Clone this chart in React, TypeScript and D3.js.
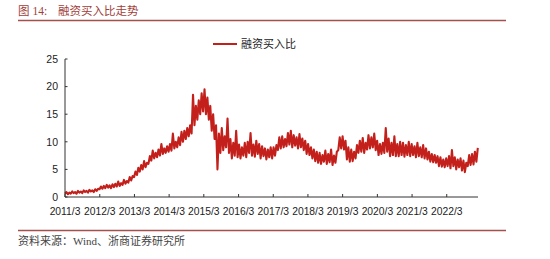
import React from "react";
import * as d3 from "d3";

const title = "融资买入比走势";
const seriesName = "融资买入比";
const xTickLabels = ["2011/3","2012/3","2013/3","2014/3","2015/3","2016/3","2017/3","2018/3","2019/3","2020/3","2021/3","2022/3"];
const yTicks = [0, 5, 10, 15, 20, 25];

// half-monthly readings, Mar 2011 .. Feb 2023 (one row per year, Mar..Feb)
const values2011 = [0.6,0.9,0.5,0.8,0.6,1.0,0.7,0.9,0.6,1.1,0.8,1.0,0.7,1.2,0.9,1.1,0.8,1.3,1.0,1.2,0.9,1.4,1.1,1.5];
const values2012 = [1.4,1.9,1.5,2.0,1.6,2.2,1.7,2.1,1.6,2.3,1.8,2.4,1.9,2.8,2.0,2.5,2.2,3.1,2.4,2.9,2.6,3.6,3.0,3.8];
const values2013 = [3.6,4.6,4.0,5.3,4.6,5.8,5.0,6.5,5.4,6.2,6.0,7.4,6.6,8.4,7.0,8.0,7.2,8.6,7.5,9.6,7.8,8.8,8.0,9.2];
const values2014 = [8.2,9.6,8.4,11.5,8.8,10.0,9.0,10.8,9.4,11.8,10.0,12.0,10.5,12.5,11.0,13.0,11.5,18.5,13.0,16.5,14.0,17.5,15.0,18.8];
const values2015 = [15.5,19.5,15.0,18.0,14.0,16.5,12.0,15.0,10.5,13.0,5.0,11.5,8.0,12.5,8.5,11.0,9.0,14.2,8.0,10.5,7.0,9.8,7.5,12.0];
const values2016 = [7.2,9.5,7.0,9.0,7.5,9.8,7.2,10.0,8.0,11.6,7.5,9.5,7.3,10.2,7.8,9.6,7.0,9.2,7.4,8.8,6.8,8.6,7.2,9.0];
const values2017 = [7.0,9.0,7.5,9.4,8.5,10.8,8.8,11.0,9.0,10.5,9.2,11.6,9.5,12.0,9.0,11.2,9.3,10.8,8.8,11.4,9.0,10.6,8.5,10.2];
const values2018 = [7.8,9.6,7.6,9.0,7.0,8.6,6.5,8.2,6.2,8.0,6.0,7.6,6.4,8.4,6.0,7.8,6.3,8.6,5.8,7.5,6.2,8.2,8.5,10.8];
const values2019 = [8.8,11.0,8.6,10.2,6.8,9.0,6.4,8.6,6.5,8.2,7.0,9.4,8.0,10.2,8.2,10.7,8.0,9.8,8.6,11.2,8.8,10.8,9.0,11.5];
const values2020 = [8.5,10.2,7.6,9.6,7.8,9.8,8.0,12.5,8.2,10.6,7.4,9.8,7.6,11.0,7.4,9.6,7.4,10.0,7.6,9.8,7.3,9.4,7.6,10.0];
const values2021 = [7.4,9.6,7.6,9.2,7.2,9.8,7.4,9.0,7.2,9.4,7.0,8.8,6.8,8.2,6.4,7.8,6.3,7.6,6.2,7.4,5.6,7.2,5.5,6.8];
const values2022 = [5.4,7.0,5.6,7.4,5.2,8.5,5.6,7.2,5.0,6.8,5.4,7.0,4.8,6.6,4.5,6.2,5.6,7.6,5.8,7.8,5.9,8.2,6.4,8.9];

const allValues = [
  ...values2011, ...values2012, ...values2013, ...values2014, ...values2015, ...values2016,
  ...values2017, ...values2018, ...values2019, ...values2020, ...values2021, ...values2022,
];

const startDate = new Date(2011, 2, 1);
const lastDate = new Date(2023, 0, 22);
const axisEnd = new Date(2023, 0, 24);

export default function App() {
  const W = 550, H = 259;
  const x = d3.scaleTime().domain([startDate, axisEnd]).range([65, 478]);
  const y = d3.scaleLinear().domain([0, 25]).range([197, 59]);
  const n = allValues.length;
  const span = lastDate.getTime() - startDate.getTime();
  const data = allValues.map((v, i) => ({ d: new Date(startDate.getTime() + (span * i) / (n - 1)), v }));
  const line = d3.line<{ d: Date; v: number }>().x((p) => x(p.d)).y((p) => y(p.v));
  const tickDates = xTickLabels.map((s) => {
    const [yr, mo] = s.split("/").map(Number);
    return new Date(yr, mo - 1, 1);
  });
  const red = "#c3201c";
  const rule = "#a4504c";
  const numFont = "'Liberation Sans', Arial, sans-serif";
  const cjkFont = "'Noto Sans CJK SC', sans-serif";
  const serif = "'Liberation Serif', 'Times New Roman', serif";

  return (
    <svg width={W} height={H} style={{ position: "absolute", left: 0, top: 0, background: "#fff" }}>
      {/* title */}
      <text x={18} y={15} fontSize={11.5} fill="#a0403a">
        <tspan fontFamily={cjkFont}>图</tspan>
        <tspan fontFamily={serif} dx={3}>14:</tspan>
        <tspan fontFamily={cjkFont} x={58}>{title}</tspan>
      </text>
      <line x1={18} x2={506} y1={20.5} y2={20.5} stroke={rule} strokeWidth={1.3} />

      {/* legend */}
      <line x1={213} x2={237} y1={44} y2={44} stroke={red} strokeWidth={2} />
      <text x={241} y={48} fontSize={11} fontFamily={cjkFont} fill="#222">{seriesName}</text>

      {/* series */}
      <path d={line(data) || ""} fill="none" stroke={red} strokeWidth={2.1} strokeLinejoin="round" />

      {/* y axis */}
      <line x1={65} x2={65} y1={y(25)} y2={y(0)} stroke="#333" strokeWidth={1} />
      {yTicks.map((t) => (
        <g key={t}>
          <line x1={65} x2={67.5} y1={y(t)} y2={y(t)} stroke="#333" strokeWidth={1} />
          <text x={58} y={y(t) + 3.7} fontSize={10.5} fontFamily={numFont} fill="#222" textAnchor="end">{t}</text>
        </g>
      ))}

      {/* x axis */}
      <line x1={65} x2={478} y1={y(0)} y2={y(0)} stroke="#333" strokeWidth={1} />
      {tickDates.map((d, i) => (
        <g key={i}>
          <line x1={x(d)} x2={x(d)} y1={y(0)} y2={y(0) - 3} stroke="#333" strokeWidth={1} />
          <text x={x(d)} y={214.5} fontSize={10.3} fontFamily={numFont} fill="#222" textAnchor="middle">{xTickLabels[i]}</text>
        </g>
      ))}

      {/* source */}
      <line x1={18} x2={506} y1={230.5} y2={230.5} stroke={rule} strokeWidth={1.3} />
      <text x={18} y={245} fontSize={11} fill="#444">
        <tspan fontFamily={cjkFont}>资料来源：</tspan>
        <tspan fontFamily={serif}>Wind</tspan>
        <tspan fontFamily={cjkFont}>、浙商证券研究所</tspan>
      </text>
    </svg>
  );
}
